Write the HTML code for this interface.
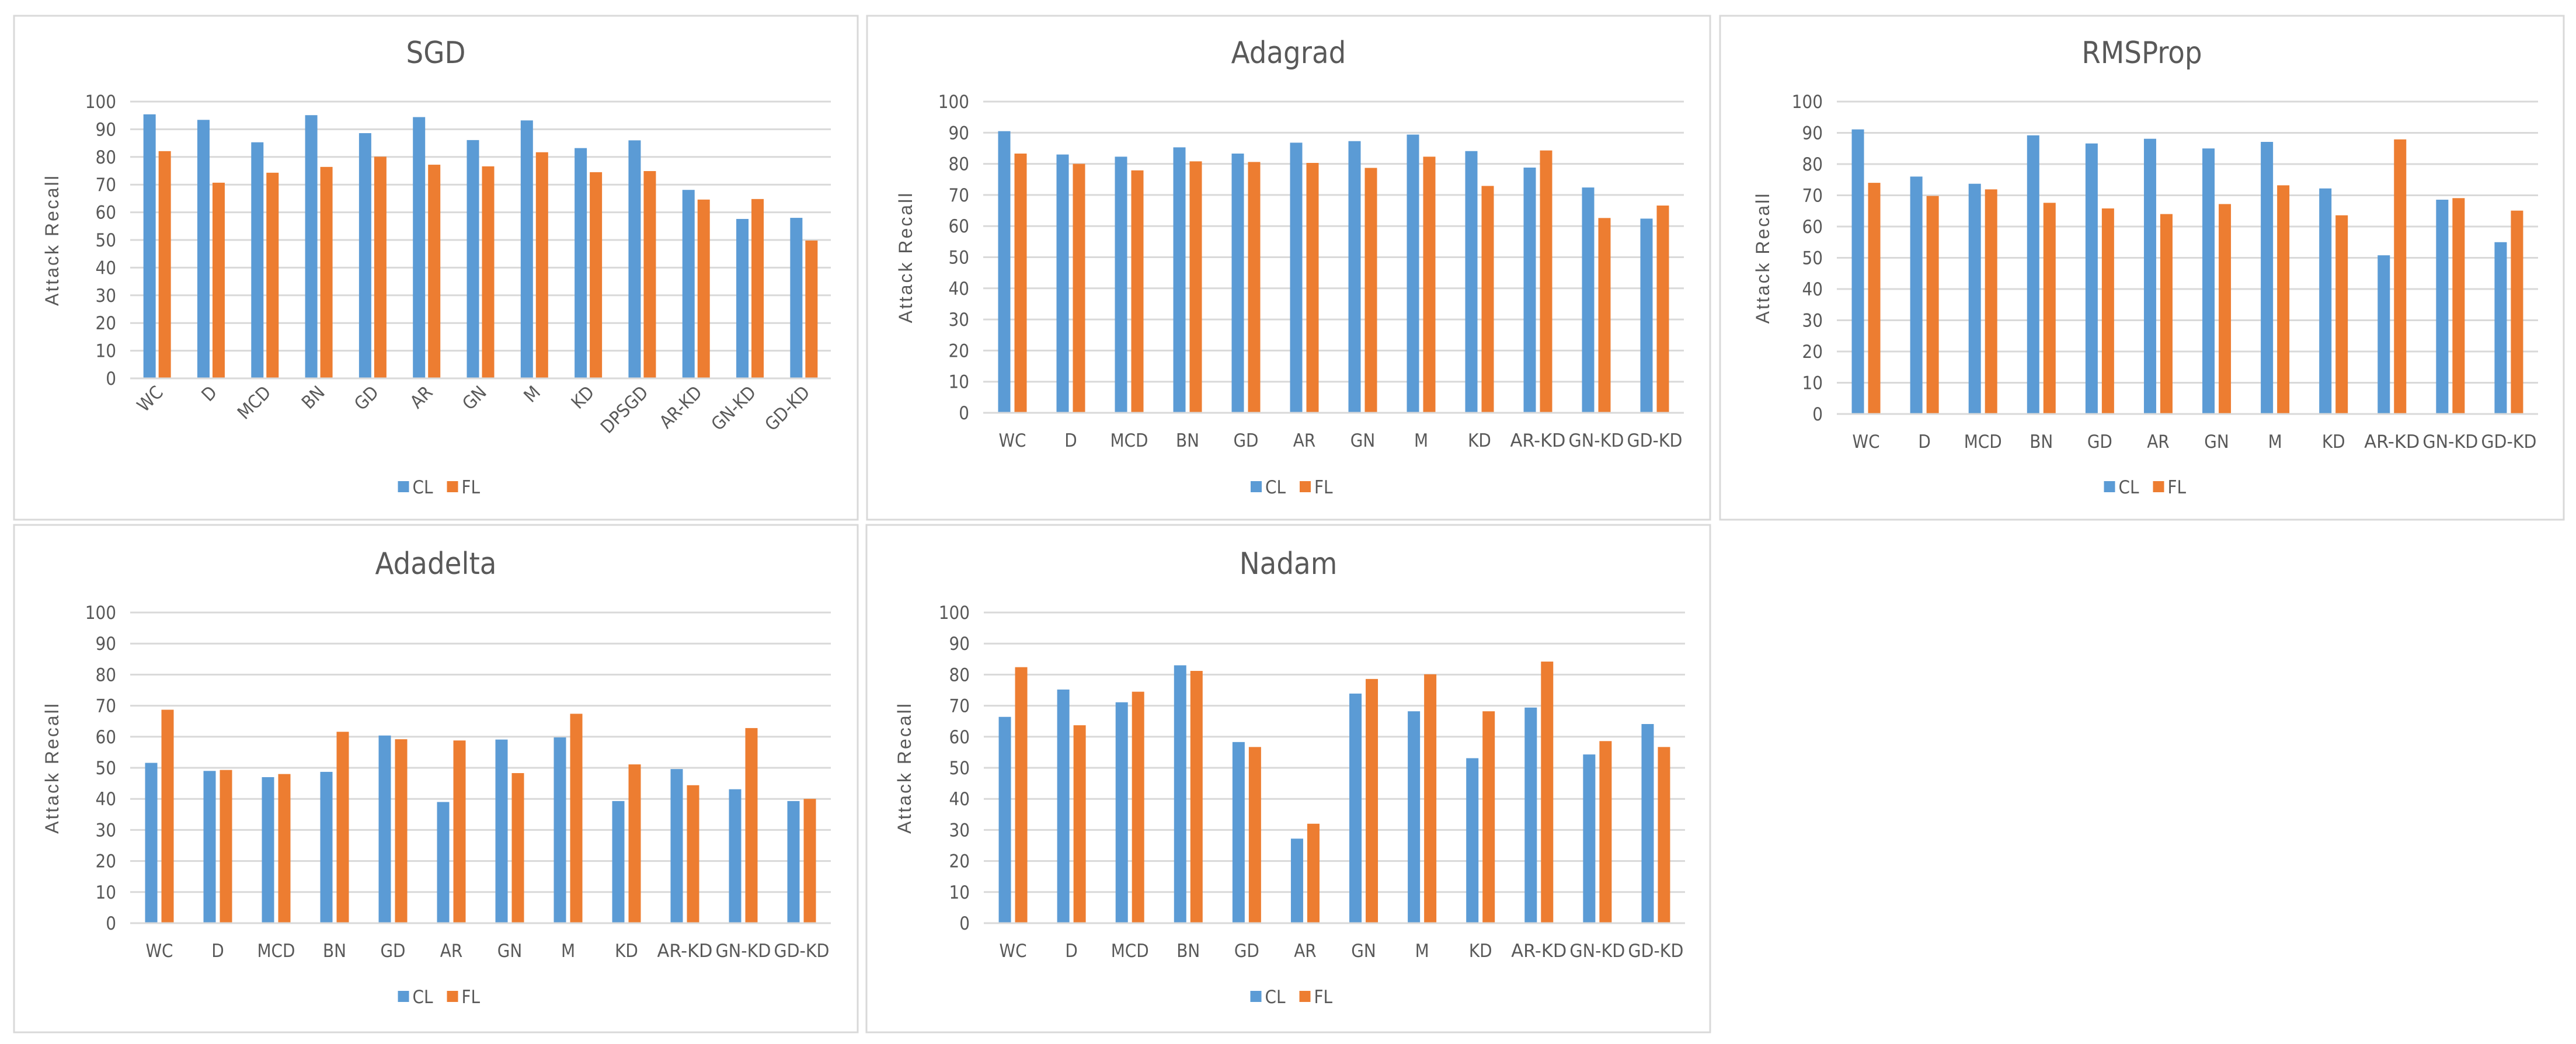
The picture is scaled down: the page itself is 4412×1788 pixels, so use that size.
<!DOCTYPE html>
<html><head><meta charset="utf-8">
<style>
html,body{margin:0;padding:0;background:#fff;}
svg{display:block;}
text{font-family:"Liberation Sans Narrow","DejaVu Sans Condensed","Liberation Sans",sans-serif;fill:#595959;}
</style></head>
<body>
<svg id="fig" width="4412" height="1788" viewBox="0 0 4412 1788" xmlns="http://www.w3.org/2000/svg"></svg>
<script>
const catsSGD = ["WC","D","MCD","BN","GD","AR","GN","M","KD","DPSGD","AR-KD","GN-KD","GD-KD"];
const cats12 = ["WC","D","MCD","BN","GD","AR","GN","M","KD","AR-KD","GN-KD","GD-KD"];
const yTicks = [0,10,20,30,40,50,60,70,80,90,100];
const sgdCL = [95.4,93.4,85.3,95.1,88.6,94.4,86.1,93.2,83.2,86.0,68.1,57.6,58.0];
const sgdFL = [82.1,70.7,74.3,76.4,80.1,77.2,76.6,81.7,74.5,74.9,64.6,64.8,49.8];
const adagradCL = [90.5,83.0,82.3,85.3,83.3,86.8,87.3,89.4,84.1,78.8,72.4,62.4];
const adagradFL = [83.3,80.0,77.9,80.8,80.6,80.3,78.7,82.3,72.9,84.3,62.6,66.6];
const rmsCL = [91.1,76.0,73.7,89.2,86.6,88.1,85.0,87.1,72.2,50.8,68.6,55.0];
const rmsFL = [74.0,69.8,71.9,67.6,65.8,64.0,67.2,73.2,63.6,87.9,69.1,65.1];
const adadeltaCL = [51.6,49.0,47.0,48.7,60.4,39.0,59.1,59.8,39.3,49.6,43.1,39.3];
const adadeltaFL = [68.7,49.3,48.0,61.6,59.2,58.8,48.3,67.4,51.1,44.4,62.8,40.0];
const nadamCL = [66.4,75.2,71.1,83.0,58.3,27.2,73.9,68.2,53.1,69.4,54.3,64.1];
const nadamFL = [82.4,63.7,74.5,81.2,56.7,32.0,78.6,80.1,68.2,84.2,58.6,56.7];

const NS="http://www.w3.org/2000/svg";
const svg=document.getElementById('fig');
function mk(tag,attrs,parent){const e=document.createElementNS(NS,tag);for(const k in attrs)e.setAttribute(k,attrs[k]);(parent||svg).appendChild(e);return e;}

const panels=[
 {key:"sgd",title:"SGD",cats:catsSGD,cl:sgdCL,fl:sgdFL,box:[24,27,1469,890],px:[223,1423],py:[174,648],rot:true,gap:5,titleY:108,legY:835,axX:100},
 {key:"adagrad",title:"Adagrad",cats:cats12,cl:adagradCL,fl:adagradFL,box:[1485,27,2929,890],px:[1684,2884],py:[174,707],rot:false,gap:7,titleY:108,legY:835,axX:1562},
 {key:"rmsprop",title:"RMSProp",cats:cats12,cl:rmsCL,fl:rmsFL,box:[2946,27,4391,890],px:[3146,4347],py:[174,709],rot:false,gap:7,titleY:108,legY:835,axX:3030},
 {key:"adadelta",title:"Adadelta",cats:cats12,cl:adadeltaCL,fl:adadeltaFL,box:[24,899,1469,1768],px:[223,1423],py:[1049,1581],rot:false,gap:7,titleY:983,legY:1708,axX:100},
 {key:"nadam",title:"Nadam",cats:cats12,cl:nadamCL,fl:nadamFL,box:[1484,899,2929,1768],px:[1685,2886],py:[1049,1581],rot:false,gap:7,titleY:983,legY:1708,axX:1560}
];

panels.forEach(p=>{
  const g=mk('g',{});
  
  
  const [x0,y0,x1,y1]=p.box;
  const frame=mk('rect',{x:x0,y:y0,width:x1-x0,height:y1-y0,fill:'#fff',stroke:'#d9d9d9','stroke-width':3},g);
  
  
  const cx=(x0+x1)/2;
  const t=mk('text',{x:cx,y:p.titleY,'text-anchor':'middle','font-size':52},g);
  t.textContent=p.title;
  
  
  const yScale=v=>p.py[1]-(v/100)*(p.py[1]-p.py[0]);
  yTicks.forEach(v=>{
    const y=yScale(v);
    const gl=mk('line',{x1:p.px[0],x2:p.px[1],y1:y,y2:y,stroke:'#d9d9d9','stroke-width':3},g);
    
    
    const tl=mk('text',{x:p.px[0]-24,y:y+11,'text-anchor':'end','font-size':31},g);
    tl.textContent=v;
    
    
  });
  const ay=(p.py[0]+p.py[1])/2;
  const at=mk('text',{x:p.axX,y:ay,'text-anchor':'middle','font-size':32,'letter-spacing':3,transform:`rotate(-90 ${p.axX} ${ay})`,style:'font-family:"Liberation Sans",sans-serif'},g);
  at.textContent="Attack Recall";
  
  
  const n=p.cats.length;
  const gw=(p.px[1]-p.px[0])/n;
  const bw=21;
  p.cats.forEach((c,i)=>{
    const gc=p.px[0]+gw*(i+0.5);
    const b1=mk('rect',{x:gc-p.gap/2-bw,y:yScale(p.cl[i]),width:bw,height:p.py[1]-yScale(p.cl[i]),fill:'#5b9bd5'},g);
    
    
    const b2=mk('rect',{x:gc+p.gap/2,y:yScale(p.fl[i]),width:bw,height:p.py[1]-yScale(p.fl[i]),fill:'#ed7d31'},g);
    
    
    let xl;
    if(p.rot){
      const ax=gc+12, ayy=p.py[1]+26;
      xl=mk('text',{x:ax,y:ayy,'text-anchor':'end','font-size':31,transform:`rotate(-45 ${ax} ${ayy})`},g);
    } else {
      xl=mk('text',{x:gc,y:p.py[1]+58,'text-anchor':'middle','font-size':31},g);
      if(c.length>3){xl.setAttribute('textLength',Math.min(gw-4,95));xl.setAttribute('lengthAdjust','spacingAndGlyphs');}
    }
    xl.textContent=c;
    
    
  });
  const al=mk('line',{x1:p.px[0],x2:p.px[1],y1:p.py[1],y2:p.py[1],stroke:'#d9d9d9','stroke-width':3},g);
  
  
  const lg=mk('g',{},g);
  
  
  const lx=cx-65;
  const s1=mk('rect',{x:lx,y:p.legY-11,width:19,height:19,fill:'#5b9bd5'},lg);
  
  
  const t1=mk('text',{x:lx+25,y:p.legY+10,'font-size':31},lg);t1.textContent="CL";
  
  
  const s2=mk('rect',{x:lx+84,y:p.legY-11,width:19,height:19,fill:'#ed7d31'},lg);
  
  
  const t2=mk('text',{x:lx+109,y:p.legY+10,'font-size':31},lg);t2.textContent="FL";
  
  
});
</script>
</body></html>
